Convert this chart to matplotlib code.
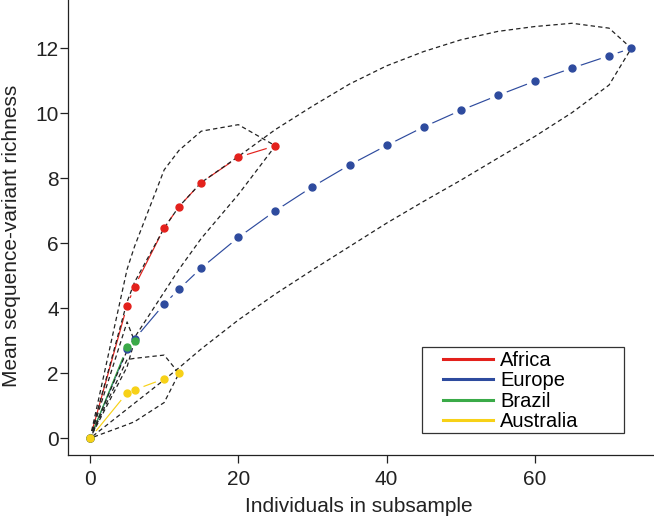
import matplotlib
matplotlib.use("Agg")
import matplotlib.pyplot as plt
from matplotlib.lines import Line2D
from matplotlib.patches import Rectangle

# ---------------- data ----------------
africa_n = [0, 5, 6, 10, 12, 15, 20, 25]
africa_mean = [0, 4.08, 4.67, 6.47, 7.13, 7.87, 8.65, 9.0]
africa_upper = [0, 5.2, 5.9, 8.26, 8.86, 9.45, 9.65, 9.0]
africa_lower = [0, 2.7, 3.1, 4.5, 5.2, 6.15, 7.5, 9.0]

europe_n = [0, 5, 6, 10, 12, 15, 20, 25, 30, 35, 40, 45, 50, 55, 60, 65, 70, 73]
europe_mean = [0, 2.74, 3.05, 4.13, 4.59, 5.24, 6.18, 7.0, 7.74, 8.41, 9.01,
               9.58, 10.09, 10.55, 10.99, 11.39, 11.77, 12.0]
europe_upper = [0, 4.2, 4.8, 6.47, 7.13, 7.87, 8.67, 9.5, 10.22, 10.9, 11.46,
                11.9, 12.26, 12.52, 12.67, 12.77, 12.62, 12.0]
europe_lower = [0, 0.9, 1.08, 1.8, 2.17, 2.75, 3.64, 4.44, 5.18, 5.9, 6.62,
                7.29, 7.94, 8.62, 9.29, 10.02, 10.87, 12.0]

brazil_n = [0, 5, 6]
brazil_mean = [0, 2.8, 2.99]
brazil_upper = [0, 3.58, 2.99]
brazil_lower = [0, 2.2, 2.99]

australia_n = [0, 5, 6, 10, 12]
australia_mean = [0, 1.40, 1.49, 1.83, 2.0]
australia_upper = [0, 2.42, 2.46, 2.56, 2.0]
australia_lower = [0, 0.42, 0.51, 1.1, 2.0]

regions = ["Africa", "Europe", "Brazil", "Australia"]
colors = ["#E3211C", "#2E4B9E", "#3AAA48", "#F7D117"]

x_ticks = [0, 20, 40, 60]
y_ticks = [0, 2, 4, 6, 8, 10, 12]

series = [
    (africa_n, africa_mean, africa_upper, africa_lower),
    (europe_n, europe_mean, europe_upper, europe_lower),
    (brazil_n, brazil_mean, brazil_upper, brazil_lower),
    (australia_n, australia_mean, australia_upper, australia_lower),
]

# ---------------- figure ----------------
plt.rcParams["font.family"] = ["Liberation Sans", "DejaVu Sans"]
W, H = 654, 520
fig = plt.figure(figsize=(W / 100, H / 100), dpi=100)
ax = fig.add_axes([68 / W, 65 / H, 1 - 68 / W, 1 - 65 / H])

for (n, m, up, lo), col, name in zip(series, colors, regions):
    ax.plot(n, m, color=col, lw=0.85, zorder=2)
    # white halo gives the "type b" gaps around the points
    ax.plot(n, m, linestyle="none", marker="o", markersize=12,
            markerfacecolor="white", markeredgecolor="white", zorder=3)
    env_x = list(n) + list(n[::-1])
    env_y = list(up) + list(lo[::-1])
    ax.plot(env_x, env_y, color="#222222", lw=0.9, linestyle=(0, (3.5, 2.5)),
            zorder=4)

for (n, m, up, lo), col in zip(series, colors):
    ax.plot(n, m, linestyle="none", marker="o", markersize=5.0,
            markerfacecolor=col, markeredgecolor=col, zorder=5)

# legend (frame drawn separately)
leg_handles = [Line2D([], [], color=c, lw=2.2) for c in colors]
leg = fig.legend(leg_handles, regions, loc="upper left",
                 bbox_to_anchor=(443 / W, 1 - 351 / H),
                 fontsize=14.5, frameon=False, borderaxespad=0, borderpad=0,
                 handlelength=2.5, handletextpad=0.35, labelspacing=0.07)
fig.patches.append(Rectangle((421.7 / W, 1 - 432.7 / H), (624 - 421.7) / W,
                             (432.7 - 346.7) / H, transform=fig.transFigure,
                             fill=False, edgecolor="#333333", lw=0.9))

ax.set_xlim(-2.97, 76.06)
ax.set_ylim(-0.514, 13.486)
ax.set_xticks(x_ticks)
ax.set_yticks(y_ticks)
ax.tick_params(axis="both", labelsize=15, length=5.5, width=0.9,
               color="#222222", labelcolor="#222222")
ax.tick_params(axis="y", pad=1)
ax.tick_params(axis="x", pad=5)

for s in ["top", "right"]:
    ax.spines[s].set_visible(False)
for s in ["left", "bottom"]:
    ax.spines[s].set_linewidth(0.9)
    ax.spines[s].set_color("#222222")

ax.set_xlabel("Individuals in subsample", fontsize=15, color="#222222")
ax.set_ylabel("Mean sequence-variant richness", fontsize=15, color="#222222")
ax.xaxis.set_label_coords((359 - 68) / 586, -(507 - 455) / 455, transform=ax.transAxes)
ax.xaxis.label.set_va("center")
ax.yaxis.set_label_coords(-(68 - 12) / 586, (455 - 236) / 455, transform=ax.transAxes)
ax.yaxis.label.set_va("center")

fig.savefig("out.png", dpi=100)
